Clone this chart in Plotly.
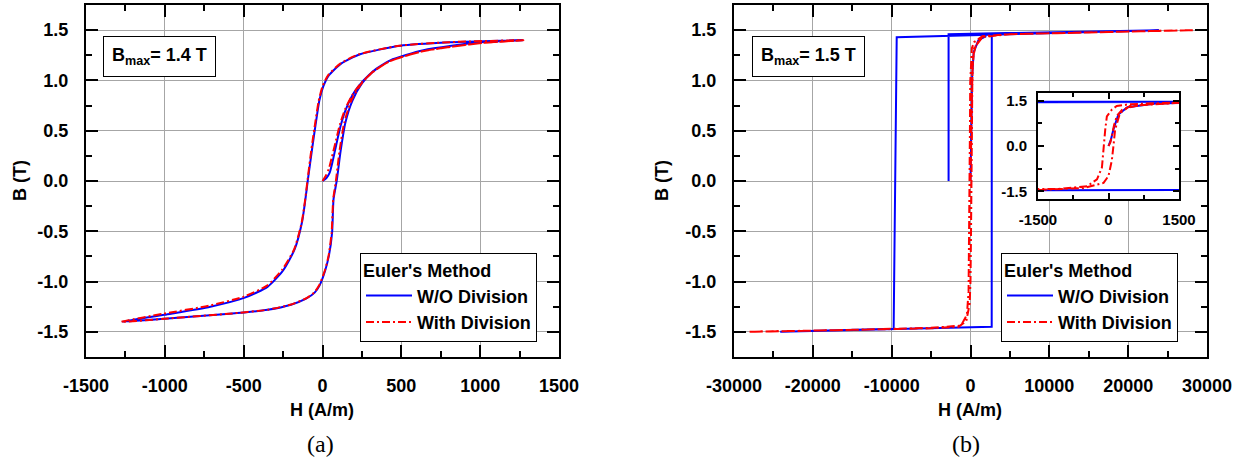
import plotly.graph_objects as go

W, H = 1244, 458
FONT = "Liberation Sans"

# ---------------- (a) B_max = 1.4 T ----------------
H_a_blue = [0, 25, 45, 65, 90, 115, 150, 200, 260, 330, 430, 640, 1000, 1270,
            810, 492, 238, 120, 40, 5, -20, -40, -65, -92, -110, -130, -177, -250, -347, -493, -711, -1002, -1270,
            -1002, -590, -347, -200, -104, -50, -19, 17, 41, 61, 70, 90, 115, 145, 190, 250, 320, 430, 640, 1000, 1270]
B_a_blue = [0, 0.03, 0.08, 0.20, 0.38, 0.55, 0.72, 0.88, 1.00, 1.10, 1.20, 1.30, 1.38, 1.40,
            1.38, 1.345, 1.26, 1.17, 1.05, 0.94, 0.80, 0.60, 0.33, 0.02, -0.20, -0.41, -0.68, -0.89, -1.05, -1.16, -1.25, -1.33, -1.40,
            -1.37, -1.32, -1.28, -1.23, -1.17, -1.11, -1.04, -0.89, -0.74, -0.51, -0.18, 0, 0.30, 0.58, 0.80, 0.97, 1.09, 1.20, 1.30, 1.38, 1.40]

H_a_red = [0, 20, 40, 60, 85, 110, 145, 195, 255, 325, 425, 635, 995, 1275,
           805, 488, 232, 115, 35, 0, -25, -45, -70, -95, -112, -133, -180, -255, -352, -500, -720, -1010, -1275,
           -1005, -595, -350, -205, -108, -53, -22, 15, 39, 58, 68, 85, 108, 138, 183, 243, 315, 425, 635, 995, 1275]
B_a_red = [0, 0.05, 0.12, 0.24, 0.40, 0.56, 0.72, 0.87, 0.99, 1.09, 1.19, 1.29, 1.37, 1.40,
           1.38, 1.345, 1.26, 1.17, 1.05, 0.94, 0.79, 0.59, 0.32, 0.01, -0.21, -0.42, -0.68, -0.88, -1.04, -1.15, -1.24, -1.32, -1.40,
           -1.37, -1.32, -1.28, -1.23, -1.17, -1.11, -1.04, -0.89, -0.74, -0.51, -0.18, 0, 0.30, 0.58, 0.80, 0.96, 1.08, 1.19, 1.29, 1.37, 1.40]

# ---------------- (b) B_max = 1.5 T ----------------
H_b_blue = [0, 50, 105, 210, 400, 1000, 2000, None,
            -2780, -2780, 23900, 2700, 2690, -24140, -9750, -9360, 23900]
B_b_blue = [0, 0.20, 0.55, 1.04, 1.28, 1.40, 1.44, None,
            0.0, 1.46, 1.50, 1.455, -1.45, -1.50, -1.47, 1.43, 1.50]

H_b_red = [0, 40, 80, 120, 180, 300, 700, 1500, None,
           28200, 15000, 5000, 1500, 455, 175, 70, -35, -70, -105, -140, -245, -455, -1085, -1500, -5000, -15000, -28200,
           -15000, -5000, -1500, -525, -105, 0, 70, 105, 140, 245, 455, 1500, 5000, 15000, 28200]
B_b_red = [0, 0.12, 0.40, 0.70, 1.00, 1.22, 1.36, 1.43, None,
           1.50, 1.48, 1.46, 1.44, 1.38, 1.32, 1.20, 0.98, 0.53, -0.03, -0.71, -1.10, -1.33, -1.42, -1.44, -1.46, -1.48, -1.50,
           -1.48, -1.465, -1.45, -1.39, -1.22, -0.99, -0.48, 0.0, 0.53, 1.09, 1.32, 1.43, 1.46, 1.48, 1.50]

# ---------------- ticks ----------------
xt_a = [-1500, -1000, -500, 0, 500, 1000, 1500]
xt_a_lbl = ["-1500", "-1000", "-500", "0", "500", "1000", "1500"]
xm_a = [-1250, -750, -250, 250, 750, 1250]
xt_b = [-30000, -20000, -10000, 0, 10000, 20000, 30000]
xt_b_lbl = ["-30000", "-20000", "-10000", "0", "10000", "20000", "30000"]
xm_b = [-25000, -15000, -5000, 5000, 15000, 25000]
yt = [-1.5, -1.0, -0.5, 0.0, 0.5, 1.0, 1.5]
yt_lbl = ["-1.5", "-1.0", "-0.5", "0.0", "0.5", "1.0", "1.5"]
ym = [-1.25, -0.75, -0.25, 0.25, 0.75, 1.25]
xt_in = [-1500, 0, 1500]
xt_in_lbl = ["-1500", "0", "1500"]
xm_in = [-750, 750]
yt_in = [-1.5, 0.0, 1.5]
yt_in_lbl = ["-1.5", "0.0", "1.5"]
ym_in = [-0.75, 0.75]

BLUE = "#0000ff"
RED = "#ff0000"
RED_DASH = "8px,3px,2px,3px"

fig = go.Figure()
fig.add_trace(go.Scatter(x=H_a_blue, y=B_a_blue, mode="lines", name="W/O Division",
                         line=dict(color=BLUE, width=2, shape="spline", smoothing=0.6),
                         xaxis="x", yaxis="y", legend="legend"))
fig.add_trace(go.Scatter(x=H_a_red, y=B_a_red, mode="lines", name="With Division",
                         line=dict(color=RED, width=2, dash=RED_DASH, shape="spline", smoothing=0.6),
                         xaxis="x", yaxis="y", legend="legend"))
fig.add_trace(go.Scatter(x=H_b_blue, y=B_b_blue, mode="lines", name="W/O Division",
                         line=dict(color=BLUE, width=2), xaxis="x2", yaxis="y2", legend="legend2"))
fig.add_trace(go.Scatter(x=H_b_red, y=B_b_red, mode="lines", name="With Division",
                         line=dict(color=RED, width=2, dash=RED_DASH), xaxis="x2", yaxis="y2", legend="legend2"))
fig.add_trace(go.Scatter(x=H_b_blue, y=B_b_blue, mode="lines", showlegend=False,
                         line=dict(color=BLUE, width=2), xaxis="x3", yaxis="y3"))
fig.add_trace(go.Scatter(x=H_b_red, y=B_b_red, mode="lines", showlegend=False,
                         line=dict(color=RED, width=2, dash=RED_DASH), xaxis="x3", yaxis="y3"))


def px(x):
    return x / W


def py(y):
    return 1 - y / H


tickfont = dict(family=FONT, size=18, color="black", weight="bold")
insetfont = dict(family=FONT, size=15, color="black", weight="bold")
GRID = "#a6a6a6"


def main_axis(domain, rng, tv, tl, mv, anchor, standoff):
    return dict(domain=domain, range=rng, tickvals=tv, ticktext=tl, ticks="inside", ticklen=12,
                tickwidth=2, tickcolor="black", showline=True, linewidth=2, linecolor="black",
                mirror="allticks", showgrid=True, gridcolor=GRID, gridwidth=1, zeroline=False,
                tickfont=tickfont, anchor=anchor, ticklabelstandoff=standoff, automargin=False,
                minor=dict(tickvals=mv, ticks="inside", ticklen=6, tickwidth=2, tickcolor="black", showgrid=False))


def inset_axis(domain, rng, tv, tl, mv, anchor, standoff):
    return dict(domain=domain, range=rng, tickvals=tv, ticktext=tl, ticks="inside", ticklen=6,
                tickwidth=2, tickcolor="black", showline=True, linewidth=2, linecolor="black",
                mirror="allticks", showgrid=False, zeroline=False, automargin=False,
                tickfont=insetfont, anchor=anchor, ticklabelstandoff=standoff,
                minor=dict(tickvals=mv, ticks="inside", ticklen=4, tickwidth=2, tickcolor="black", showgrid=False))


ydom = [py(357), py(5)]
legend_common = dict(bordercolor="black", borderwidth=1, bgcolor="white",
                     font=dict(family=FONT, size=18, color="black", weight="bold"),
                     title=dict(text="Euler's Method", font=dict(family=FONT, size=18, color="black", weight="bold")),
                     xanchor="right", yanchor="bottom", tracegroupgap=0, itemwidth=46)

fig.update_layout(
    width=W, height=H, margin=dict(l=0, r=0, t=0, b=0, autoexpand=False),
    paper_bgcolor="white", plot_bgcolor="white",
    xaxis=main_axis([px(86), px(559)], [-1500, 1500], xt_a, xt_a_lbl, xm_a, "y", 11),
    yaxis=main_axis(ydom, [-1.75, 1.75], yt, yt_lbl, ym, "x", 12),
    xaxis2=main_axis([px(734), px(1207)], [-30000, 30000], xt_b, xt_b_lbl, xm_b, "y2", 11),
    yaxis2=main_axis(ydom, [-1.75, 1.75], yt, yt_lbl, ym, "x2", 12),
    xaxis3=inset_axis([px(1038), px(1179)], [-1500, 1500], xt_in, xt_in_lbl, xm_in, "y3", 6),
    yaxis3=inset_axis([py(199), py(93)], [-1.75, 1.75], yt_in, yt_in_lbl, ym_in, "x3", 6),
    legend=dict(x=px(537), y=py(342), **legend_common),
    legend2=dict(x=px(1178), y=py(342), **legend_common),
    showlegend=True,
)

ann = []
for cx, cy, txt in [(20, 181, "B (T)"), (662, 181, "B (T)")]:
    ann.append(dict(x=px(cx), y=py(cy), xref="paper", yref="paper", text=txt, showarrow=False,
                    xanchor="center", yanchor="middle", textangle=-90,
                    font=dict(family=FONT, size=18, color="black", weight="bold")))
for cx, cy, txt in [(322, 410, "H (A/m)"), (970, 410, "H (A/m)")]:
    ann.append(dict(x=px(cx), y=py(cy), xref="paper", yref="paper", text=txt, showarrow=False,
                    xanchor="center", yanchor="middle",
                    font=dict(family=FONT, size=18, color="black", weight="bold")))
for cx, cy, txt in [(320, 444, "(a)"), (966, 444, "(b)")]:
    ann.append(dict(x=px(cx), y=py(cy), xref="paper", yref="paper", text=txt, showarrow=False,
                    xanchor="center", yanchor="middle",
                    font=dict(family="Liberation Serif", size=24, color="black")))
for cx, txt in [(159.5, "B<sub>max</sub>= 1.4 T"), (808.5, "B<sub>max</sub>= 1.5 T")]:
    ann.append(dict(x=px(cx), y=py(56.5), xref="paper", yref="paper", text=txt, showarrow=False,
                    xanchor="center", yanchor="middle",
                    font=dict(family=FONT, size=18, color="black", weight="bold"),
                    bordercolor="black", borderwidth=1, borderpad=1, bgcolor="white",
                    width=109, height=37))
fig.update_layout(annotations=ann)

fig.write_html("out.html")
